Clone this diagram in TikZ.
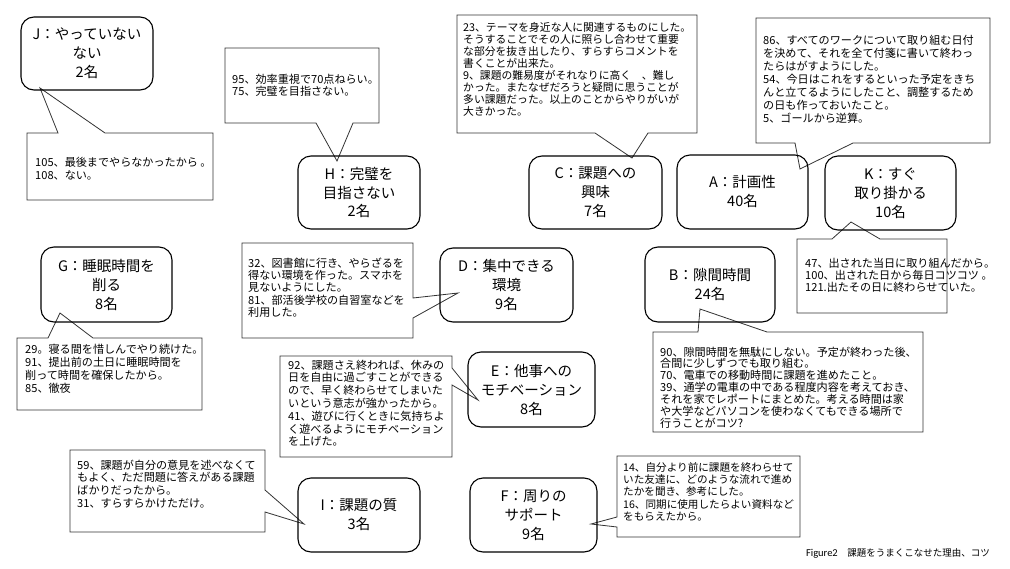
\documentclass[tikz,border=0pt]{standalone}
\usepackage{fontspec}
\setmainfont{Noto Sans CJK JP}
\newfontfamily\capfont{Carlito}
\begin{document}
\begin{tikzpicture}[x=1pt,y=-1pt,
  mainbox/.style={draw=black, line width=1.1pt, rounded corners=13pt, align=center,
    font=\fontsize{14.5}{19}\selectfont, inner sep=0pt},
  ctext/.style={anchor=north west, align=left, inner sep=0pt, font=\fontsize{11.1}{#1}\selectfont},
  ctext/.default=12.5,
  cframe/.style={draw=black!80, line width=0.8pt, fill=white, line join=miter}]
\useasboundingbox (0,0) rectangle (1010,568);

% ---- callout frames ----
\draw[cframe] (27,133) -- (58,133) -- (40,88) -- (105,133) -- (213,133) -- (213,200) -- (27,200) -- cycle;
\draw[cframe] (225,48) -- (379,48) -- (379,123) -- (353,123) -- (337,161) -- (316,123) -- (225,123) -- cycle;
\draw[cframe] (457,15) -- (697,15) -- (697,133) -- (648,133) -- (632,158) -- (595,133) -- (457,133) -- cycle;
\draw[cframe] (756,18) -- (990,18) -- (990,143) -- (853,143) -- (800,169) -- (795,143) -- (756,143) -- cycle;
\draw[cframe] (797,239) -- (832,239) -- (851,222) -- (880,239) -- (947,239) -- (947,313) -- (797,313) -- cycle;
\draw[cframe] (653,332) -- (698,332) -- (700,309) -- (767,332) -- (923,332) -- (923,432) -- (653,432) -- cycle;
\draw[cframe] (17,338) -- (48,338) -- (60,313) -- (93,338) -- (202,338) -- (202,410) -- (17,410) -- cycle;
\draw[cframe] (242,243) -- (413,243) -- (413,298) -- (458,293) -- (413,318) -- (413,338) -- (242,338) -- cycle;
\draw[cframe] (280,356) -- (452,356) -- (452,368) -- (478,400) -- (452,385) -- (452,457) -- (280,457) -- cycle;
\draw[cframe] (70,450) -- (265,450) -- (265,490) -- (304,524) -- (265,512) -- (265,532) -- (70,532) -- cycle;
\draw[cframe] (617,456) -- (800,456) -- (800,537) -- (617,537) -- (617,527) -- (591,524) -- (617,517) -- cycle;

% ---- callout texts ----
\node[ctext] (tJ) at (35,157) {105、最後までやらなかったから 。\\108、ない。};
\node[ctext] (tH) at (232,73.5) {95、効率重視で70点ねらい。\\75、完璧を目指さない。};
\node[ctext=12, font=\fontsize{10.8}{12}\selectfont] (tC) at (463,22.5) {23、テーマを身近な人に関連するものにした。\\そうすることでその人に照らし合わせて重要\\な部分を抜き出したり、すらすらコメントを\\書くことが出来た。\\9、課題の難易度がそれなりに高く　、難し\\かった。またなぜだろうと疑問に思うことが\\多い課題だった。以上のことからやりがいが\\大きかった。};
\node[ctext=13] (tA) at (763,34.5) {86、すべてのワークについて取り組む日付\\を決めて、それを全て付箋に書いて終わっ\\たらはがすようにした。\\54、今日はこれをするといった予定をきち\\んと立てるようにしたこと、調整するため\\の日も作っておいたこと。\\5、ゴールから逆算。};
\node[ctext=12] (tK) at (805,257.5) {47、出された当日に取り組んだから。\\100、出された日から毎日コツコツ 。\\121.出たその日に終わらせていた。};
\node[ctext=11.9] (tB) at (660,346.5) {90、隙間時間を無駄にしない。予定が終わった後、\\合間に少しずつでも取り組む。\\70、電車での移動時間に課題を進めたこと。\\39、通学の電車の中である程度内容を考えておき、\\それを家でレポートにまとめた。考える時間は家\\や大学などパソコンを使わなくてもできる場所で\\行うことがコツ?};
\node[ctext=13] (tG) at (25,343.5) {29。寝る間を惜しんでやり続けた。\\91、提出前の土日に睡眠時間を\\削って時間を確保したから。\\85、徹夜};
\node[ctext=12.3] (tD) at (248,257.5) {32、図書館に行き、やらざるを\\得ない環境を作った。スマホを\\見ないようにした。\\81、部活後学校の自習室などを\\利用した。};
\node[ctext=12.8] (tE) at (288,359.5) {92、課題さえ終われば、休みの\\日を自由に過ごすことができる\\ので、早く終わらせてしまいた\\いという意志が強かったから。\\41、遊びに行くときに気持ちよ\\く遊べるようにモチベーション\\を上げた。};
\node[ctext=12.7] (tI) at (77,459.5) {59、課題が自分の意見を述べなくて\\もよく、ただ問題に答えがある課題\\ばかりだったから。\\31、すらすらかけただけ。};
\node[ctext=12.4, font=\fontsize{10.6}{12.4}\selectfont] (tF) at (623,462) {14、自分より前に課題を終わらせて\\いた友達に、どのような流れで進め\\たかを聞き、参考にした。\\16、同期に使用したらよい資料など\\をもらえたから。};

% ---- main boxes ----
\node[mainbox, minimum width=132pt, minimum height=73pt] (J) at (87,53.5) {J：やっていない\\ない\\2名};
\node[mainbox, minimum width=122pt, minimum height=73pt] (H) at (359,192.5) {H：完璧を\\目指さない\\2名};
\node[mainbox, minimum width=133pt, minimum height=73pt] (C) at (595.5,192.5) {C：課題への\\興味\\7名};
\node[mainbox, minimum width=131pt, minimum height=74pt] (A) at (742.5,192) {A：計画性\\40名};
\node[mainbox, minimum width=131pt, minimum height=74pt] (K) at (890.5,193) {K：すぐ\\取り掛かる\\10名};
\node[mainbox, minimum width=131pt, minimum height=75pt] (G) at (106.5,284.5) {G：睡眠時間を\\削る\\8名};
\node[mainbox, minimum width=133pt, minimum height=74pt] (D) at (506.5,285) {D：集中できる\\環境\\9名};
\node[mainbox, minimum width=130pt, minimum height=75pt] (B) at (710,284.5) {B：隙間時間\\24名};
\node[mainbox, minimum width=127pt, minimum height=75pt] (E) at (531.5,389.5) {E：他事への\\モチベーション\\8名};
\node[mainbox, minimum width=122pt, minimum height=74pt] (I) at (359,515) {I：課題の質\\3名};
\node[mainbox, minimum width=127pt, minimum height=74pt] (F) at (533.5,515) {F：周りの\\サポート\\9名};

% ---- caption ----
\node[anchor=east, inner sep=0pt, font=\fontsize{9.5}{11}\selectfont] (cap) at (990,553) {{\capfont\fontsize{10.5}{11}\selectfont Figure2}　課題をうまくこなせた理由、コツ};
\end{tikzpicture}
\end{document}
